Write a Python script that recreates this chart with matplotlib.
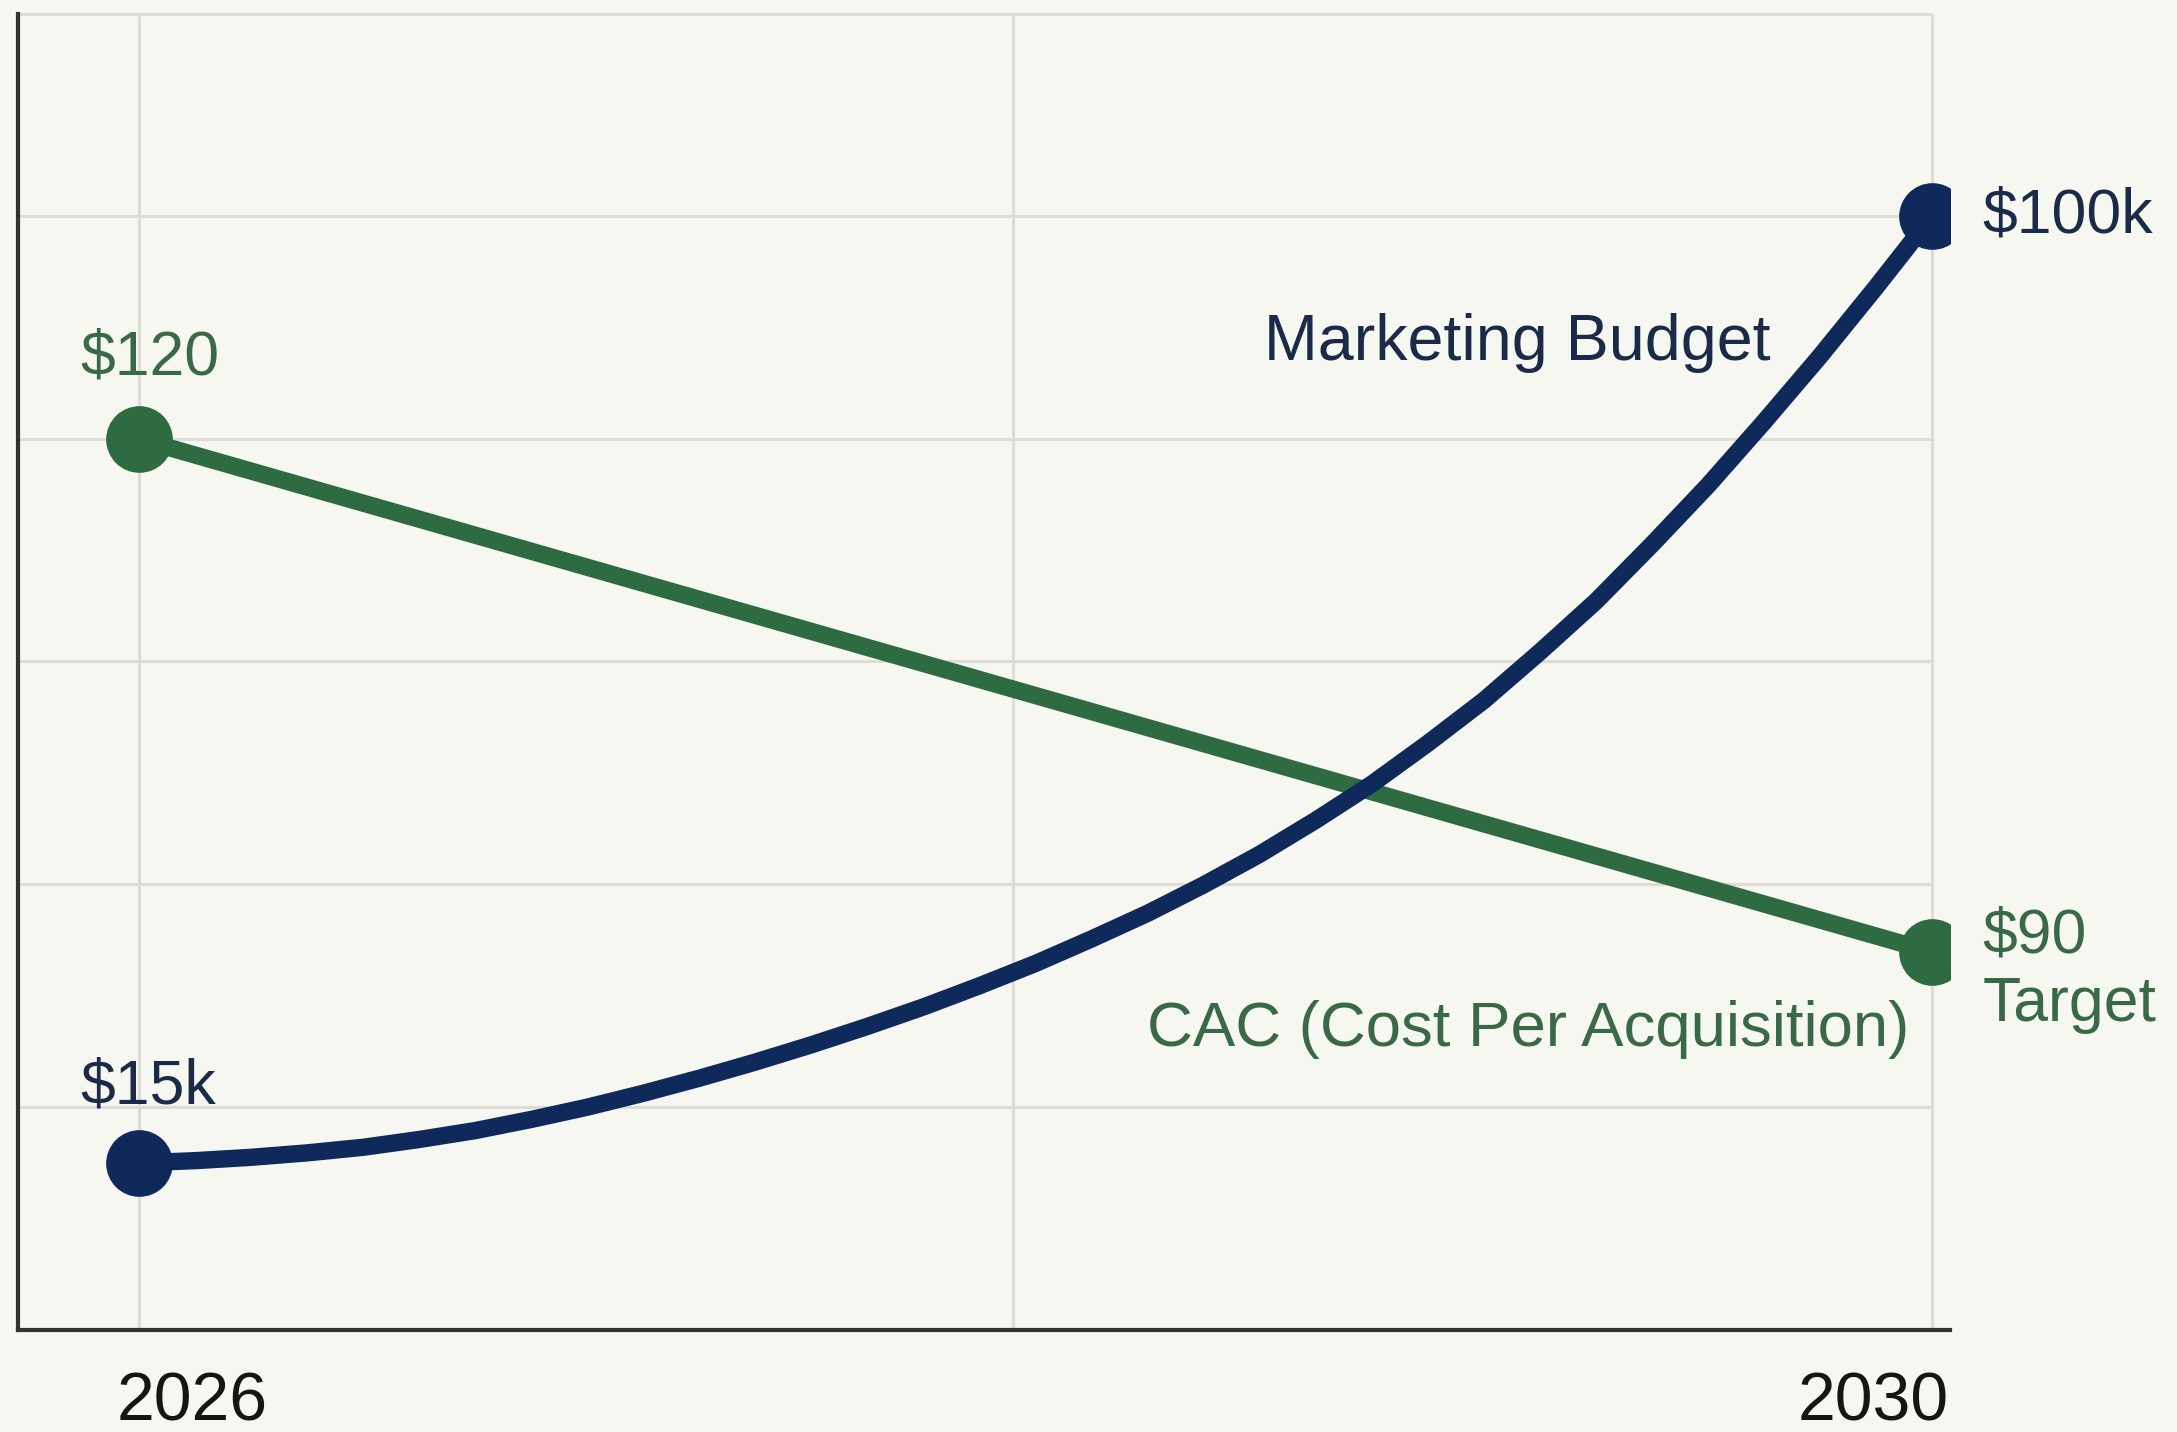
import matplotlib
matplotlib.use("Agg")
import matplotlib.pyplot as plt
import matplotlib.transforms as mtransforms

plt.rcParams['font.family'] = ['Liberation Sans', 'DejaVu Sans']

# values (budget in $k, CAC in $)
years_budget = [2026.0, 2026.125, 2026.25, 2026.375, 2026.5, 2026.625, 2026.75, 2026.875,
                2027.0, 2027.125, 2027.25, 2027.375, 2027.5, 2027.625, 2027.75, 2027.875,
                2028.0, 2028.125, 2028.25, 2028.375, 2028.5, 2028.625, 2028.75, 2028.875,
                2029.0, 2029.125, 2029.25, 2029.375, 2029.5, 2029.625, 2029.75, 2029.875,
                2030.0]
budget_k = [15.0, 15.2, 15.5, 15.9, 16.4, 17.1, 17.9, 18.9,
            20.0, 21.25, 22.6, 24.05, 25.6, 27.25, 29.0, 30.9,
            32.9, 35.1, 37.4, 39.95, 42.7, 45.75, 49.0, 52.65,
            56.5, 60.85, 65.4, 70.5, 75.8, 81.5, 87.4, 93.6,
            100.0]
years_cac = [2026, 2030]
cac = [120, 90]

tick_years = [2026, 2030]
grid_years = [2026, 2027.95, 2030]
grid_budget = [20, 40, 60, 80, 100]

bg = '#f7f7f2'
navy = '#0f2a5a'
green = '#2f6b40'
navy_txt = '#1b2a46'
green_txt = '#3a6948'
grid_c = '#dddcd6'

fig = plt.figure(figsize=(21.77, 14.32), dpi=100, facecolor=bg)
ax = fig.add_axes([0.00827, 0.0712, 0.8875, 0.919])
ax.set_facecolor(bg)
axb = ax.twinx()

ax.set_xlim(2025.73, 2030.04)
ax.set_ylim(67.9, 144.85)
axb.set_ylim(0, 118.1)

# grid
ax.vlines(grid_years, 0, 1, transform=ax.get_xaxis_transform(), color=grid_c, lw=2.2, zorder=0)
tr = mtransforms.blended_transform_factory(ax.transData, axb.transData)
ax.hlines(grid_budget, 2025.73, 2030, transform=tr, color=grid_c, lw=2.2, zorder=0)
ax.hlines(1, 2025.73, 2030, transform=ax.get_xaxis_transform(), color=grid_c, lw=2.2,
          zorder=0, clip_on=False)

for s in ['top', 'right']:
    ax.spines[s].set_visible(False)
for s in axb.spines.values():
    s.set_visible(False)
ax.spines['left'].set_color('#333333')
ax.spines['bottom'].set_color('#333333')
ax.spines['left'].set_linewidth(3)
ax.spines['bottom'].set_linewidth(3)

ax.set_yticks([])
axb.set_yticks([])
ax.set_xticks(tick_years)
ax.set_xticklabels([str(y) for y in tick_years], fontsize=49, color='#151515')
ax.tick_params(axis='x', length=0, pad=29)
labs = ax.get_xticklabels()
shifts = [-16, 12]
for lab, dx in zip(labs, shifts):
    lab.set_horizontalalignment('left' if dx < 0 else 'right')
    lab.set_transform(lab.get_transform() + mtransforms.ScaledTranslation(dx / 72, 0, fig.dpi_scale_trans))

# lines
ax.plot(years_cac, cac, color=green, lw=12.5, solid_capstyle='round',
        marker='o', markersize=47, markevery=[0, len(cac) - 1])
axb.plot(years_budget, budget_k, color=navy, lw=12.5, solid_capstyle='round',
         solid_joinstyle='round', marker='o', markersize=47, markevery=[0, len(budget_k) - 1])

# end labels
axb.annotate('$100k', xy=(years_budget[-1], budget_k[-1]), xytext=(36, 0),
             textcoords='offset points', ha='left', va='center', fontsize=45, color=navy_txt)
axb.annotate('$15k', xy=(years_budget[0], budget_k[0]), xytext=(-42, 55),
             textcoords='offset points', ha='left', va='center', fontsize=45, color=navy_txt)
ax.annotate('$120', xy=(years_cac[0], cac[0]), xytext=(-42, 58),
            textcoords='offset points', ha='left', va='center', fontsize=45, color=green_txt)
ax.annotate('$90\nTarget', xy=(years_cac[-1], cac[-1]), xytext=(36, -13),
            textcoords='offset points', ha='left', va='center', fontsize=45, color=green_txt,
            multialignment='left', linespacing=1.22)

# series labels
axb.text(2028.51, 88.6, 'Marketing Budget', ha='left', va='center', fontsize=46.5, color=navy_txt)
ax.text(2029.95, 85.5, 'CAC (Cost Per Acquisition)', ha='right', va='center', fontsize=45.7,
        color=green_txt)

fig.savefig('out.png', dpi=100, facecolor=bg)
